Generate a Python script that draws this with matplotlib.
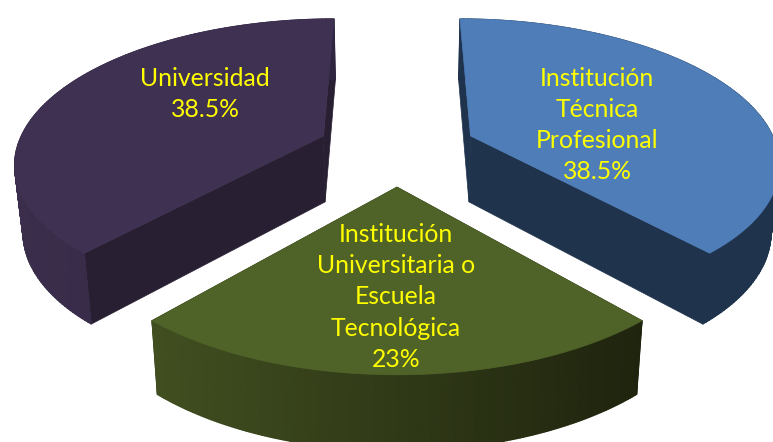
import matplotlib
matplotlib.use('Agg')
import matplotlib.pyplot as plt
from matplotlib.colors import LinearSegmentedColormap
import numpy as np

# datos
categorias = ['Institución\nTécnica\nProfesional', 'Universidad', 'Institución\nUniversitaria o\nEscuela\nTecnológica']
valores = [38.5, 38.5, 23]
etiquetas = ['38.5%', '38.5%', '23%']

# estilos: cara superior, cara radial, borde inicio, borde fin
sup = ['#4e7db8', '#3f3151', '#4f6228']
radial = ['#1f334d', '#281f33', '#1f240e']
borde_a = ['#1f334d', '#2f2540', '#1f240e']
borde_b = ['#1f334d', '#3b2e4c', '#414f20']
pos_texto = [(597, 125), (205, 94), (396, 297)]

# proyeccion en perspectiva
cx, cy = 397, 148.7
rx, ry = 307, 141
k = 0.17
explode = 0.26
escala_x = 0.978
ry_abajo, fondo = 147, 66.5


def arriba(u, v):
    s = 1 / (1 - k * v)
    return cx + rx * u * s, cy + ry * v * s


def abajo(u, v):
    s = 1 / (1 - k * v)
    return cx + rx * u * s * escala_x, cy + ry_abajo * v * s + fondo


fig = plt.figure(figsize=(7.73, 4.42), dpi=100)
ax = fig.add_axes([0, 0, 1, 1])
ax.set_xlim(0, 773)
ax.set_ylim(442, 0)
ax.axis('off')

# la porcion menor queda centrada abajo
total = sum(valores)
inicio = np.radians(valores[-1] / total * 180)

for i, val in enumerate(valores):
    ang = np.radians(val / total * 360)
    t = np.linspace(inicio, inicio + ang, 160)
    inicio += ang
    media = t.mean()
    ex, ey = explode * np.sin(media), explode * np.cos(media)
    u = ex + np.sin(t)
    v = ey + np.cos(t)

    xt, yt = arriba(u, v)
    xb, yb = abajo(u, v)
    x0t, y0t = arriba(ex, ey)
    x0b, y0b = abajo(ex, ey)

    # caras radiales
    for j in (0, -1):
        ax.fill([x0t, xt[j], xb[j], x0b], [y0t, yt[j], yb[j], y0b],
                color=radial[i], lw=0.5, zorder=1)

    # borde exterior con degradado horizontal
    cmap = LinearSegmentedColormap.from_list('borde', [borde_b[i], borde_a[i]])
    X = np.vstack([xt, xb])
    Y = np.vstack([yt, yb])
    ax.pcolormesh(X, Y, X, cmap=cmap, shading='gouraud', zorder=2)

    # cara superior
    ax.fill(np.r_[x0t, xt], np.r_[y0t, yt], color=sup[i], lw=0.5, zorder=3)

    ax.text(pos_texto[i][0], pos_texto[i][1], categorias[i] + '\n' + etiquetas[i],
            color='#ffff00', family='Lato', fontsize=17.8, ha='center', va='center',
            linespacing=1.43, zorder=4)

ax.set_xlim(0, 773)
ax.set_ylim(442, 0)
fig.savefig('out.png', dpi=100)
